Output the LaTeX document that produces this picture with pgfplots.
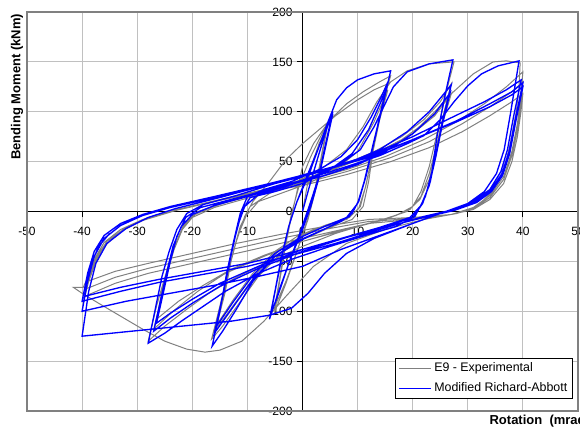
\documentclass[border=0pt]{standalone}
\usepackage{pgfplots}
\pgfplotsset{compat=1.18}
\usepackage{fontspec}
\setmainfont{Liberation Sans}
\usetikzlibrary{calc}
\definecolor{gridc}{RGB}{192,192,192}
\definecolor{framec}{RGB}{128,128,128}
\definecolor{expgray}{RGB}{128,128,128}
\begin{document}
\begin{tikzpicture}
\begin{axis}[
 scale only axis, width=413.25pt, height=299.25pt,
 xmin=-50, xmax=50, ymin=-200, ymax=200,
 axis lines=middle, axis line style={black, line width=0.75pt, -},
 xtick={-50,-40,...,50}, ytick={-200,-150,...,200},
 xticklabels={-50,-40,-30,-20,-10,0,10,20,30,40,50},
 yticklabels={-200,-150,-100,-50,0,50,100,150,200},
 hide obscured x ticks=false, hide obscured y ticks=false,
 grid=major, grid style={gridc, line width=0.75pt},
 tick align=outside, major tick length=4pt,
 tick style={black, line width=0.75pt},
 tick label style={font=\fontsize{9}{10}\selectfont},
 xticklabel style={anchor=north, yshift=-4pt},
 yticklabel style={anchor=east},
 clip=false,
 legend style={at={(axis cs:49.1,-188)}, anchor=south east, draw=black, line width=0.6pt,
   font=\fontsize{9.3}{11}\selectfont, inner xsep=2pt, inner ysep=1.5pt, row sep=3pt, fill=white},
 legend cell align=left,
 legend image code/.code={\draw[#1] (0pt,0pt) -- (24pt,0pt);},
]
\draw[framec, line width=1.1pt] (rel axis cs:0,0) rectangle (rel axis cs:1,1);
\coordinate (sw) at (rel axis cs:0,0);
\coordinate (ne) at (rel axis cs:1,1);

\addplot[expgray, line width=0.75pt] coordinates {
(0,0) (1,30) (2,52) (3,68) (4.5,85)
(3.4,52) (2.3,20) (1,-8) (-1,-40) (-3,-70) (-5,-95)
(-4,-62) (-3,-30) (-2,-2) (-0.5,28) (1.5,55) (3,72) (4.5,88)
(3.4,55) (2.2,20) (1,-6) (-1,-40) (-3,-72) (-5,-100)
(-4,-65) (-3,-32) (-2,-5) (-1,20) (0,45) (2,68) (5,92) (8,108) (11,120) (14,130) (16,136)
(14.5,108) (13,68) (12,30) (11,5) (9,-8) (5,-16) (0,-28) (-4,-42) (-8,-65) (-11.5,-92) (-14.5,-115) (-16.5,-128)
(-15,-95) (-13.5,-60) (-12,-30) (-10.5,-5) (-9,10) (-6,30) (-3,52) (0,68) (3,82) (6,96) (10,112) (13,122) (15.5,128)
(14.2,100) (12.8,62) (11.6,28) (10.5,5) (8.5,-6) (4,-14) (0,-24) (-4,-38) (-8,-60) (-12,-90) (-16,-120)
(-14.6,-90) (-13.2,-55) (-11.8,-25) (-10.2,-4) (-8,10) (-4,18) (1,28) (6,42) (10,60) (13,90) (15.5,122)
(14,92) (12.6,55) (11.4,24) (10.2,3) (8,-8) (3,-16) (-1,-25) (-5,-40) (-9,-62) (-12.5,-88) (-15.5,-113)
(-14,-80) (-12.8,-45) (-11.3,-15) (-9.5,5) (-6,18) (-1,30) (4,45) (8,62) (11,85) (13.5,110) (16,130) (19,141) (23,148) (27.5,150)
(26,118) (24.5,80) (23,45) (21.5,20) (20,5) (17,-4) (12,-12) (6,-22) (0,-35) (-6,-50) (-12,-66) (-17,-82) (-21,-98) (-25,-115) (-28,-130)
(-26.5,-95) (-25.3,-72) (-24,-48) (-23,-32) (-21.5,-14) (-19.5,-3) (-15,8) (-8,20) (0,32) (7,46) (13,60) (18,75) (22,92) (25,110) (27,128)
(25.7,100) (24.3,65) (23,38) (21.5,15) (19.5,2) (15,-8) (8,-18) (0,-30) (-7,-45) (-14,-62) (-19,-80) (-23.5,-100) (-27,-118)
(-25.7,-88) (-24.6,-62) (-23.3,-38) (-21.8,-18) (-20,-6) (-16,4) (-9,15) (-2,26) (5,38) (11,50) (16,64) (20,78) (24,96) (27,118)
(25.5,90) (24.2,58) (23,32) (21.3,12) (19,0) (14,-9) (7,-19) (0,-30) (-7,-44) (-13,-58) (-18,-74) (-22.5,-90) (-26.5,-108)
(-25.5,-80) (-24.3,-55) (-23,-32) (-21.5,-12) (-19,0) (-14,9) (-7,20) (0,32) (7,45) (13,58) (18,72) (21,84) (24,100) (27,118) (29,128) (31,138) (34.6,150) (37,151) (39.5,149)
(39.3,125) (38.8,100) (37.8,70) (36.4,38) (34,18) (31.7,5) (28,-2) (22,-8) (15,-18) (8,-32) (2,-55) (-3,-85) (-7,-110) (-11,-130) (-15,-139) (-17.7,-141) (-21,-138) (-25,-130) (-29,-118) (-33,-105) (-37,-92) (-40,-82) (-41.6,-76) (-39.8,-76)
(-38.6,-62) (-37.3,-45) (-35.5,-30) (-32,-16) (-28,-6) (-22,3) (-15,12) (-7,22) (0,30) (8,42) (15,55) (22,72) (28,90) (33,108) (37,125) (40,140)
(39.6,115) (39,88) (38,60) (36.5,35) (34,16) (31,4) (27,-3) (20,-8) (12,-12) (4,-22) (-4,-32) (-12,-42) (-20,-52) (-28,-62) (-34,-72) (-39.5,-85)
(-38.8,-70) (-37.6,-52) (-36,-35) (-33,-20) (-29,-9) (-23,1) (-16,10) (-8,20) (0,28) (8,40) (16,54) (23,70) (29,88) (34,105) (38,120) (40,130)
(39.6,108) (39,82) (38,56) (36.5,32) (34,14) (31,3) (27,-3) (20,-7) (12,-10) (4,-18) (-4,-27) (-12,-37) (-20,-47) (-28,-57) (-34,-66) (-39.5,-78)
(-38.8,-62) (-37.6,-46) (-36,-31) (-33,-18) (-29,-8) (-23,2) (-16,10) (-8,19) (0,26) (8,37) (16,50) (23,64) (29,80) (34,96) (38,110) (40,118)
(39.6,98) (39,75) (38,50) (36.5,28) (34,12) (31,2) (27,-3) (20,-6) (12,-8) (4,-15) (-4,-23) (-12,-32) (-20,-42) (-28,-52) (-34,-60) (-39,-70)
(-38,-55) (-36.5,-38)
};
\addlegendentry{E9 - Experimental}

\addplot[blue, line width=1pt] coordinates {
(0,0) (1.5,30) (3,58) (4.5,85) (5.5,98)
(4.2,65) (2.8,30) (1.5,5) (0,-18) (-2,-45) (-4,-75) (-6,-108)
(-5,-80) (-3.8,-45) (-2.5,-15) (-1,10) (1,38) (3,65) (5.5,100)
(4.2,68) (2.8,32) (1.2,5) (-0.5,-22) (-2.5,-52) (-4.2,-80) (-5.8,-104)
(-4.8,-75) (-3.6,-42) (-2.5,-15) (-1,10) (1,35) (3,65) (4.5,88) (6.2,112) (8,124) (10,132) (13,138) (16,141)
(14.5,105) (13,70) (11.7,40) (10.3,12) (9,-2) (7,-10) (3,-20) (-1,-30) (-5,-45) (-9,-70) (-12,-98) (-14.5,-120) (-16.4,-135)
(-15,-100) (-13.7,-60) (-12.5,-30) (-11.3,-2) (-10,15) (-7,22) (-2,30) (3,42) (7,55) (10,72) (12.5,95) (14.3,115) (15.5,130)
(14.2,100) (12.8,65) (11.5,35) (10.2,10) (8.5,-5) (5,-15) (0,-28) (-5,-45) (-9,-68) (-12.5,-95) (-16,-122)
(-14.7,-90) (-13.4,-55) (-12.2,-25) (-11,0) (-9.5,14) (-5,20) (0,28) (5,42) (9,58) (12,82) (15.2,122)
(13.9,92) (12.5,60) (11.2,30) (10,8) (8,-6) (4,-15) (0,-25) (-5,-42) (-9,-64) (-12.5,-90) (-15.6,-115)
(-14.3,-80) (-13,-45) (-11.8,-15) (-10.5,5) (-8,17) (-3,25) (2,35) (7,48) (10.5,62) (13,85) (15,108) (16.5,125) (19,140) (23,148) (27.3,152)
(25.8,115) (24.4,75) (23.5,40) (22.3,15) (20.4,-5) (17,-15) (12,-23) (5,-35) (-2,-48) (-8,-62) (-14,-80) (-18,-95) (-22,-110) (-25,-122) (-28,-132)
(-26.8,-100) (-25.5,-65) (-24.2,-40) (-22.8,-18) (-21,-2) (-18,7) (-12,16) (-5,28) (2,38) (8,48) (14,62) (19,80) (23,100) (27,127)
(25.6,95) (24.3,60) (23.2,30) (21.8,8) (20,-6) (15,-15) (8,-26) (0,-40) (-8,-57) (-15,-75) (-20,-92) (-24,-107) (-27,-120)
(-25.8,-90) (-24.6,-60) (-23.5,-35) (-22,-15) (-20,-3) (-16,6) (-10,15) (-3,26) (4,36) (10,47) (15,60) (20,78) (24,98) (26.8,119)
(25.4,88) (24.2,55) (23,26) (21.5,6) (19.5,-6) (14,-16) (7,-27) (0,-38) (-8,-55) (-15,-72) (-20,-88) (-24,-102) (-26.5,-112)
(-25.2,-80) (-24,-50) (-22.8,-25) (-21.2,-6) (-18.5,4) (-13,12) (-6,22) (1,33) (8,45) (14,56) (19,68) (22,76) (25,92) (27.5,110) (30,126) (32.5,138) (35.5,146) (39.3,151)
(37.8,100) (36.6,62) (35.2,38) (33,20) (30,8) (26,0) (20,-12) (13,-27) (8,-42) (4,-62) (1,-82) (-2,-97) (-6,-104) (-13,-110) (-22,-115) (-31,-120) (-40,-125)
(-38.8,-80) (-37.5,-52) (-35.5,-32) (-32,-17) (-28,-6) (-23,3) (-15,14) (-5,29) (5,44) (12,56) (20,75) (27,94) (33,110) (37,122) (39.7,132)
(38.3,95) (37.2,62) (36,40) (34,22) (31,10) (27,2) (22,-8) (15,-22) (7,-38) (0,-55) (-8,-65) (-16,-74) (-24,-82) (-32,-90) (-40,-100)
(-39,-70) (-37.8,-45) (-36,-27) (-33,-14) (-29,-4) (-24,4) (-16,14) (-6,27) (4,42) (12,54) (20,72) (28,91) (34,108) (38,120) (40,129)
(38.6,92) (37.5,60) (36.2,38) (34.2,21) (31.5,10) (27.5,2) (22,-5) (14,-18) (6,-32) (-2,-44) (-10,-55) (-18,-63) (-26,-71) (-33,-80) (-40,-90)
(-39,-62) (-37.8,-40) (-36,-24) (-33,-12) (-29,-3) (-24,5) (-16,15) (-6,28) (4,42) (12,55) (20,72) (28,90) (34,105) (38,117) (40,125)
(38.7,90) (37.6,58) (36.3,36) (34.3,20) (31.6,9) (27.5,1) (22,-6) (14,-17) (6,-29) (-2,-41) (-10,-52) (-18,-60) (-26,-68) (-33,-76) (-39.5,-85)
(-38.5,-55) (-37,-35) (-35,-22)
};
\addlegendentry{Modified Richard-Abbott}

\node[rotate=90, font=\bfseries\fontsize{9.75}{11}\selectfont] at (axis cs:-51.8,125) {Bending Moment (kNm)};
\node[anchor=west, font=\bfseries\fontsize{9.75}{11}\selectfont] at (axis cs:33.1,-210) {Rotation \ (mrad)};
\end{axis}
\pgfresetboundingbox
\path ($(sw)+(-20.25pt,-12.75pt)$) rectangle ($(ne)+(1.5pt,9pt)$);
\end{tikzpicture}
\end{document}
